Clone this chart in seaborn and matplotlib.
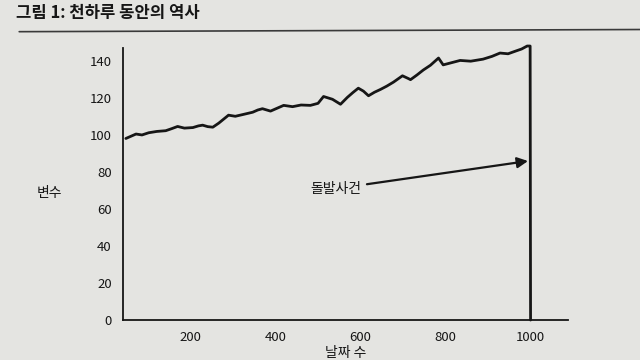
import matplotlib
matplotlib.use("Agg")
import matplotlib.pyplot as plt
import seaborn as sns
import pandas as pd
from matplotlib.lines import Line2D

# 읽어낸 값 (날짜, 변수)
days = [47, 60, 71, 85, 101, 120, 141, 155, 169, 185, 205, 218, 228, 240, 252, 266,
        289, 305, 322, 335, 346, 358, 369, 388, 400, 419, 440, 460, 482, 500, 513,
        534, 553, 569, 582, 595, 607, 619, 633, 647, 662, 678, 699, 713, 718, 733,
        748, 765, 784, 795, 815, 835, 860, 889, 910, 929, 948, 965, 980, 993, 1000, 1001]
values = [98.2, 99.5, 100.6, 100.1, 101.3, 102.0, 102.4, 103.5, 104.7, 103.8, 104.1, 105.0,
          105.4, 104.6, 104.3, 106.5, 110.8, 110.2, 111.1, 111.8, 112.4, 113.6, 114.3, 113.0,
          114.2, 116.1, 115.4, 116.3, 116.1, 117.2, 120.9, 119.4, 116.7, 120.4, 123.0, 125.4,
          123.8, 121.3, 123.2, 124.7, 126.5, 128.7, 132.1, 130.6, 130.0, 132.5, 135.2, 137.8,
          141.7, 138.0, 139.2, 140.4, 140.0, 141.1, 142.6, 144.4, 144.0, 145.4, 146.6, 148.2,
          148.2, 0.0]

x_ticks = [200, 400, 600, 800, 1000]
y_ticks = [0, 20, 40, 60, 80, 100, 120, 140]

title = "그림 1: 천하루 동안의 역사"
event_label = "돌발사건"

sns.set_style("white")
plt.rcParams["font.family"] = ["Noto Sans CJK KR", "DejaVu Sans"]

bg = "#e4e4e1"
ink = "#161616"

df = pd.DataFrame({"day": days, "value": values})

fig = plt.figure(figsize=(6.4, 3.6), dpi=100, facecolor=bg)
ax = fig.add_axes([0.192, 0.111, 0.696, 0.755])
ax.set_facecolor(bg)

sns.lineplot(data=df, x="day", y="value", ax=ax, color=ink, linewidth=2.0,
             estimator=None, sort=False, clip_on=False)

ax.set_xlim(40, 1090)
ax.set_ylim(0, 147)
ax.set_xticks(x_ticks)
ax.set_yticks(y_ticks)
ax.tick_params(length=0, labelsize=9.5, colors=ink, pad=8)
for lab in ax.get_xticklabels() + ax.get_yticklabels():
    lab.set_fontweight("medium")

sns.despine(ax=ax)
for side in ["left", "bottom"]:
    ax.spines[side].set_color(ink)
    ax.spines[side].set_linewidth(1.3)

ax.set_xlabel("날짜 수", fontsize=10, color=ink, labelpad=1)
ax.set_ylabel("변수", fontsize=10, color=ink, rotation=0)
ax.yaxis.set_label_coords(-0.165, 0.44)

ax.annotate(event_label, xy=(995, 86), xytext=(541, 71),
            fontsize=10, color=ink, ha="center", va="center", fontweight="medium",
            arrowprops=dict(arrowstyle="-|>", color=ink, lw=1.6,
                            mutation_scale=16, shrinkA=2, shrinkB=0))

fig.text(0.025, 0.965, title, fontsize=12, fontweight="bold", color=ink,
         ha="left", va="center")
fig.add_artist(Line2D([0.03, 1.0], [0.912, 0.918], color="#3a3a3a", lw=1.2,
                      transform=fig.transFigure))

fig.savefig("out.png", dpi=100, facecolor=bg)
